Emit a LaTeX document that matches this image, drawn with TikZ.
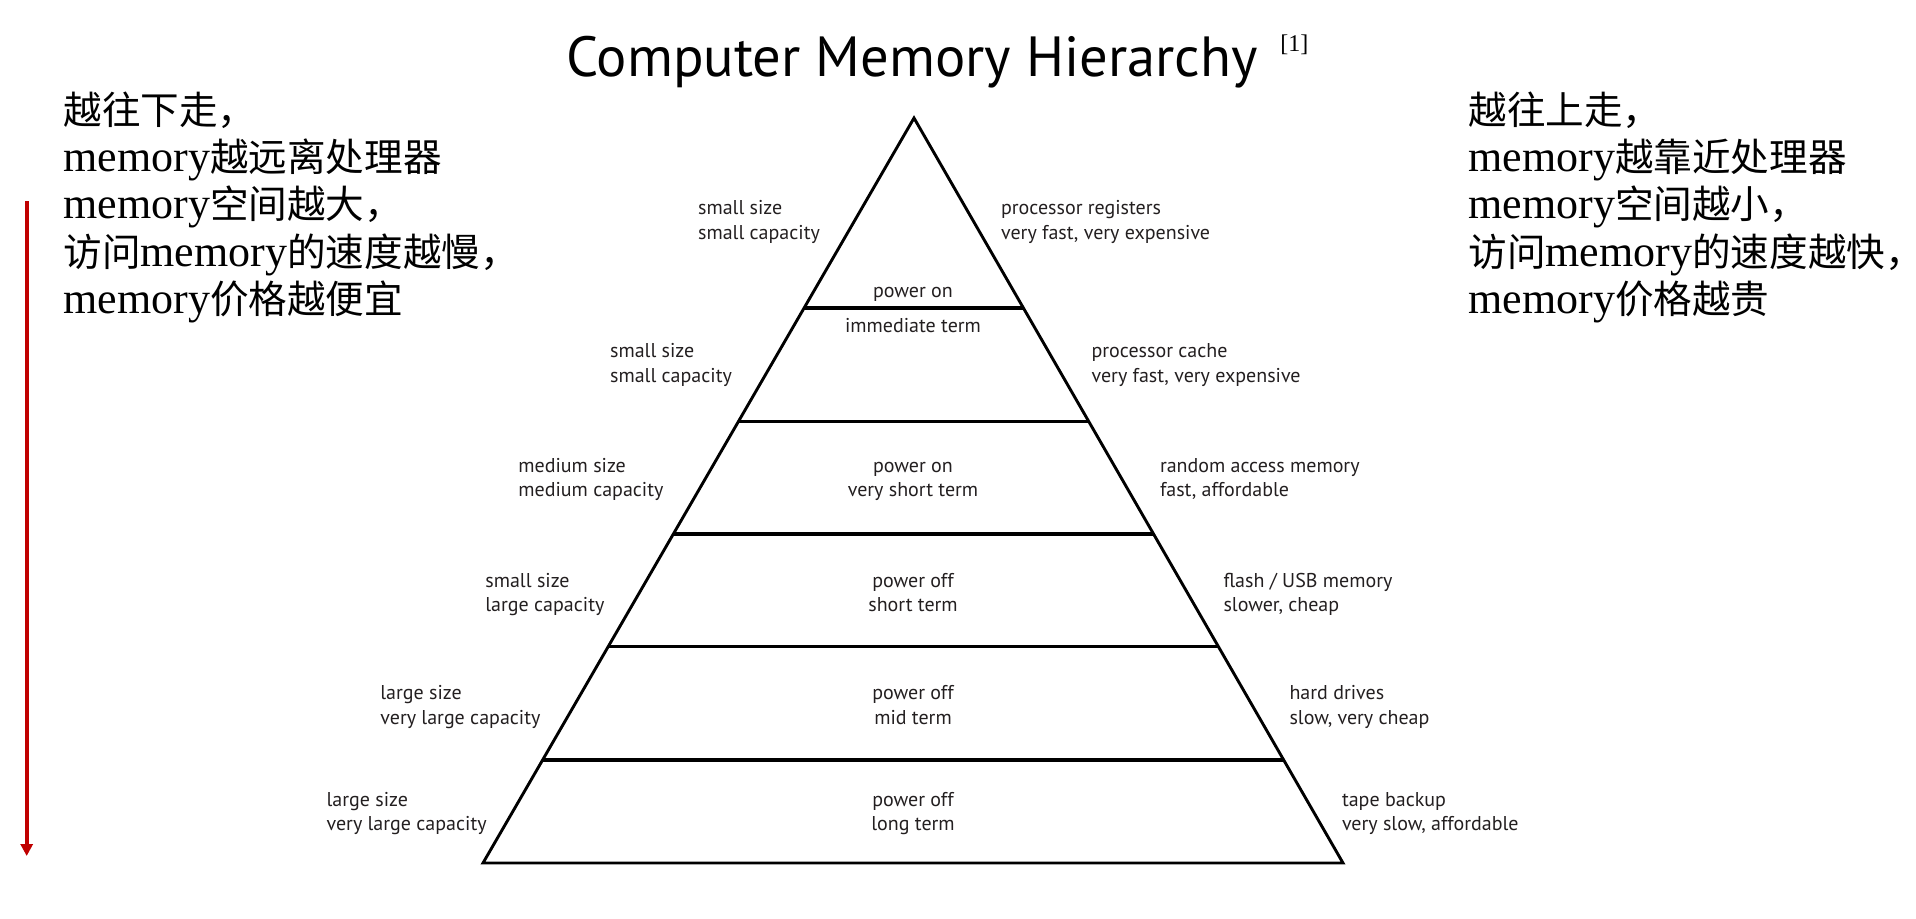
\documentclass[tikz,border=0pt]{standalone}
\usepackage{fontspec}
\setmainfont{Liberation Serif}
\newfontfamily\labelfont{PT Sans}
\newfontfamily\cjk{Noto Sans CJK SC}
\usetikzlibrary{calc,arrows.meta}
\definecolor{inkc}{RGB}{35,31,32}
\definecolor{arrowred}{RGB}{192,0,0}
\newcommand{\twolines}[6]{%
  \node[lbl, anchor=#4] (#1a) at (#2,#3) {#5};
  \node[lbl, anchor=#4] (#1b) at (#2,#3+24.4) {#6};
}
\newcommand{\mem}{{\rmfamily\fontsize{22}{24}\selectfont memory}}
\newcommand{\cmma}{\makebox[0.36em][l]{，}}
\begin{document}
\begin{tikzpicture}[x=0.5pt,y=-0.5pt,
  lbl/.style={font=\labelfont\fontsize{10}{12}\selectfont, text=inkc, inner sep=0pt},
  big/.style={font=\cjk\fontsize{19.3}{22}\selectfont, text=black, inner sep=0pt, anchor=base west},
  pyr/.style={draw=black, line width=1.45pt, line join=miter},
  divider/.style={draw=black, line width=1.55pt},
  redarrow/.style={draw=arrowred, line width=2pt, -{Triangle[length=6pt,width=6pt]}}
]
\useasboundingbox (0,0) rectangle (1916,918);

% title
\node[font=\labelfont\fontsize{28.3}{31}\selectfont, inner sep=0pt, anchor=base] (title) at (912,76) {Computer Memory Hierarchy};
\node[font=\fontsize{12}{14}\selectfont, inner sep=0pt, anchor=base west] (ref) at (1280,51) {[1]};

% pyramid
\coordinate (apex) at (914,118);
\coordinate (bl) at (483,863);
\coordinate (br) at (1343,863);
\draw[pyr] (bl) -- (apex) -- (br) -- cycle;
\foreach \y [count=\i] in {308,421.5,534,646.7,760}{
  \pgfmathsetmacro{\t}{(\y-118)/(863-118)}
  \coordinate (dl\i) at ($(apex)!\t!(bl)$);
  \coordinate (dr\i) at ($(apex)!\t!(br)$);
  \draw[divider] (dl\i) -- (dr\i);
}

% left labels
\twolines{la}{697.7}{214.7}{base west}{small size}{small capacity}
\twolines{lb}{609.7}{357.7}{base west}{small size}{small capacity}
\twolines{lc}{518}{472.5}{base west}{medium size}{medium capacity}
\twolines{ld}{485}{587.4}{base west}{small size}{large capacity}
\twolines{le}{380}{699.8}{base west}{large size}{very large capacity}
\twolines{lf}{326.2}{806}{base west}{large size}{very large capacity}

% right labels
\twolines{ra}{1000.7}{214.7}{base west}{processor registers}{very fast, very expensive}
\twolines{rb}{1091.2}{357.7}{base west}{processor cache}{very fast, very expensive}
\twolines{rc}{1159.6}{472.5}{base west}{random access memory}{fast, affordable}
\twolines{rd}{1223.1}{587.4}{base west}{flash / USB memory}{slower, cheap}
\twolines{re}{1289.1}{699.8}{base west}{hard drives}{slow, very cheap}
\twolines{rf}{1341.6}{806}{base west}{tape backup}{very slow, affordable}

% center labels
\node[lbl, anchor=base] (ca1) at (913,297.5) {power on};
\node[lbl, anchor=base] (ca2) at (913,332) {immediate term};
\twolines{cc}{913}{472.5}{base}{power on}{very short term}
\twolines{cd}{913}{587.4}{base}{power off}{short term}
\twolines{ce}{913}{699.8}{base}{power off}{mid term}
\twolines{cf}{913}{806}{base}{power off}{long term}

% left text block
\node[big] (L1) at (63,124.5) {越往下走\cmma};
\node[big] (L2) at (63,171.7) {\mem 越远离处理器};
\node[big] (L3) at (63,218.9) {\mem 空间越大\cmma};
\node[big] (L4) at (63,266.1) {访问\mem 的速度越慢\cmma};
\node[big] (L5) at (63,313.3) {\mem 价格越便宜};

% right text block
\node[big] (R1) at (1468,124.5) {越往上走\cmma};
\node[big] (R2) at (1468,171.7) {\mem 越靠近处理器};
\node[big] (R3) at (1468,218.9) {\mem 空间越小\cmma};
\node[big] (R4) at (1468,266.1) {访问\mem 的速度越快\cmma};
\node[big] (R5) at (1468,313.3) {\mem 价格越贵};

% red arrow
\coordinate (atop) at (26.7,201);
\coordinate (abot) at (26.7,856);
\draw[redarrow] (atop) -- (abot);
\end{tikzpicture}
\end{document}
